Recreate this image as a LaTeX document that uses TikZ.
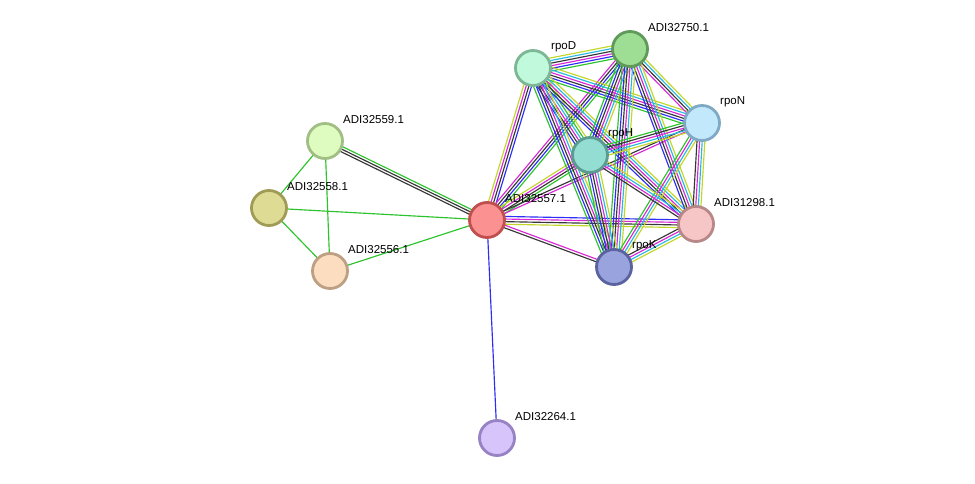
\documentclass[tikz,border=0pt]{standalone}
\usepackage{fontspec}
\setmainfont{Liberation Sans}
\usetikzlibrary{calc}
\definecolor{eg}{RGB}{45,195,45}
\definecolor{eb}{RGB}{45,45,245}
\definecolor{ek}{RGB}{55,55,55}
\definecolor{em}{RGB}{215,40,215}
\definecolor{ec}{RGB}{40,185,225}
\definecolor{ey}{RGB}{195,215,40}
\newcommand{\medge}[4]{%
  \foreach \c [count=\i] in {#4}{%
    \pgfmathsetmacro\off{(\i-(#3+1)/2)*2.6}%
    \draw[edgeline,\c] ($(#1)!\off pt!90:(#2)$) -- ($(#2)!\off pt!-90:(#1)$);}}
\tikzset{
  edgeline/.style={line width=1.15pt},
  prot/.style={circle, minimum size=35pt, inner sep=0pt, line width=2.8pt},
  lbl/.style={anchor=west, font=\fontsize{11.5}{13}\selectfont, inner sep=0pt}
}
\begin{document}
\begin{tikzpicture}[x=1pt,y=-1pt]
\useasboundingbox[fill=white] (0,0) rectangle (975,484);
% node positions
\coordinate (rpoD) at (533,68);
\coordinate (A750) at (630,49);
\coordinate (rpoN) at (702,123);
\coordinate (rpoH) at (590,155);
\coordinate (A298) at (696,224);
\coordinate (rpoK) at (614,267);
\coordinate (A557) at (487,220);
\coordinate (A559) at (325,141);
\coordinate (A558) at (269,208);
\coordinate (A556) at (330,271);
\coordinate (A264) at (497,438);
% edges
\medge{A557}{A264}{1}{eb}
\medge{A559}{A558}{1}{eg}
\medge{A559}{A556}{1}{eg}
\medge{A558}{A556}{1}{eg}
\medge{A558}{A557}{1}{eg}
\medge{A556}{A557}{1}{eg}
\medge{A559}{A557}{3}{ek,ek,eg}
\medge{A557}{rpoD}{4}{eb,ek,em,ey}
\medge{A557}{A750}{4}{eg,eb,ek,em}
\medge{A557}{rpoH}{4}{eg,ek,em,ey}
\medge{A557}{rpoN}{2}{em,ek}
\medge{A557}{A298}{4}{ey,ek,em,eb}
\medge{A557}{rpoK}{2}{ek,em}
\medge{rpoD}{A750}{6}{eg,eb,em,ek,ec,ey}
\medge{rpoD}{rpoN}{6}{eg,eb,ek,em,ec,ey}
\medge{rpoD}{rpoH}{6}{eb,ek,em,ec,eg,ey}
\medge{rpoD}{A298}{5}{eb,ek,em,ec,ey}
\medge{rpoD}{rpoK}{6}{eg,eb,ek,em,ec,ey}
\medge{A750}{rpoN}{4}{em,ek,ec,ey}
\medge{A750}{rpoH}{6}{eg,eb,ek,em,ec,ey}
\medge{A750}{A298}{5}{eb,ek,em,ec,ey}
\medge{A750}{rpoK}{6}{eg,eb,ek,em,ec,ey}
\medge{rpoN}{rpoH}{5}{eg,ek,em,ec,ey}
\medge{rpoN}{A298}{4}{ek,em,ec,ey}
\medge{rpoN}{rpoK}{4}{eg,em,ec,ey}
\medge{rpoH}{A298}{4}{ek,em,ec,ey}
\medge{rpoH}{rpoK}{6}{eg,eb,ek,em,ec,ey}
\medge{A298}{rpoK}{4}{ek,em,ec,ey}
% nodes
\node[prot, fill={rgb,255:red,193;green,249;blue,220}, draw={rgb,255:red,125;green,183;blue,150}] (nrpoD) at (rpoD) {};
\node[prot, fill={rgb,255:red,158;green,222;blue,148}, draw={rgb,255:red,95;green,154;blue,90}] (nA750) at (A750) {};
\node[prot, fill={rgb,255:red,194;green,232;blue,251}, draw={rgb,255:red,127;green,169;blue,196}] (nrpoN) at (rpoN) {};
\node[prot, fill={rgb,255:red,147;green,221;blue,210}, draw={rgb,255:red,92;green,156;blue,144}] (nrpoH) at (rpoH) {};
\node[prot, fill={rgb,255:red,246;green,198;blue,198}, draw={rgb,255:red,184;green,135;blue,135}] (nA298) at (A298) {};
\node[prot, fill={rgb,255:red,153;green,163;blue,222}, draw={rgb,255:red,90;green,99;blue,160}] (nrpoK) at (rpoK) {};
\node[prot, fill={rgb,255:red,252;green,145;blue,145}, draw={rgb,255:red,192;green,80;blue,80}] (nA557) at (A557) {};
\node[prot, fill={rgb,255:red,223;green,252;blue,192}, draw={rgb,255:red,161;green,190;blue,132}] (nA559) at (A559) {};
\node[prot, fill={rgb,255:red,222;green,220;blue,148}, draw={rgb,255:red,160;green,156;blue,88}] (nA558) at (A558) {};
\node[prot, fill={rgb,255:red,253;green,221;blue,192}, draw={rgb,255:red,189;green,160;blue,132}] (nA556) at (A556) {};
\node[prot, fill={rgb,255:red,214;green,196;blue,250}, draw={rgb,255:red,151;green,130;blue,196}] (nA264) at (A264) {};
% labels
\node[lbl] (lrpoD) at (551,47) {rpoD};
\node[lbl] (lA750) at (648,28) {ADI32750.1};
\node[lbl] (lrpoN) at (720,102) {rpoN};
\node[lbl] (lrpoH) at (608,134) {rpoH};
\node[lbl] (lA298) at (714,203) {ADI31298.1};
\node[lbl] (lrpoK) at (632,246) {rpoK};
\node[lbl] (lA557) at (505,199) {ADI32557.1};
\node[lbl] (lA559) at (343,120) {ADI32559.1};
\node[lbl] (lA558) at (287,187) {ADI32558.1};
\node[lbl] (lA556) at (348,250) {ADI32556.1};
\node[lbl] (lA264) at (515,417) {ADI32264.1};
\end{tikzpicture}
\end{document}
